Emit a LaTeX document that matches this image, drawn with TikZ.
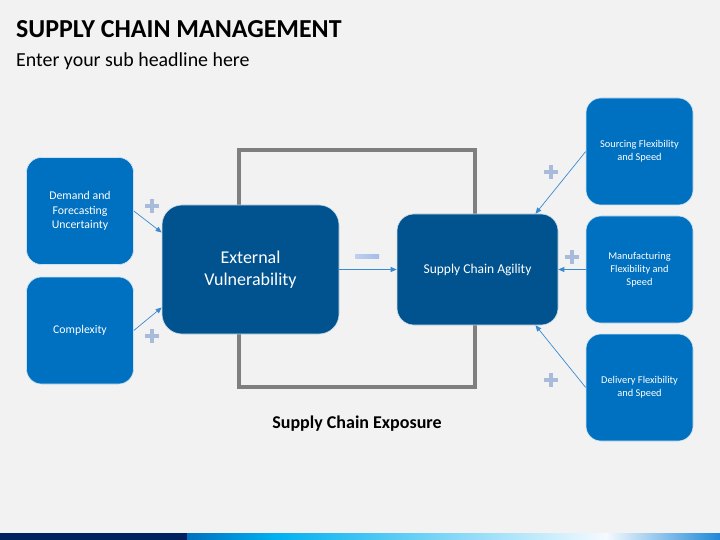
\documentclass[tikz,border=0pt]{standalone}
\usepackage{fontspec}
\setmainfont{Carlito}
\usetikzlibrary{arrows.meta}
\definecolor{bg}{HTML}{F2F2F2}
\definecolor{dblue}{HTML}{00538F}
\definecolor{lblue}{HTML}{0070C0}
\definecolor{sqgrey}{HTML}{7F7F7F}
\definecolor{plusc}{HTML}{A9BBDB}
\definecolor{minusc}{HTML}{A4BCE8}
\definecolor{arrc}{HTML}{3A8AD0}
\definecolor{navy}{HTML}{002060}
\begin{document}
\begin{tikzpicture}[x=1pt,y=-1pt,
  smallbox/.style={fill=lblue, draw=white!80!lblue, line width=0.6pt, rounded corners=15pt, text=white,
    font=\fontsize{11.8}{14.5}\selectfont, align=center, minimum width=107pt, minimum height=107pt, inner sep=0pt},
  rightbox/.style={smallbox, font=\fontsize{10.4}{12.8}\selectfont},
  bigbox/.style={fill=dblue, draw=white!80!dblue, line width=0.6pt, rounded corners=20pt, text=white, align=center, inner sep=0pt},
  conn/.style={draw=arrc, line width=0.7pt, -{Triangle[length=6pt,width=5pt]}},
  plusmark/.style={draw=plusc, line width=4pt},
]
\useasboundingbox (0,0) rectangle (720,540);
\fill[bg] (0,0) rectangle (720,540);

% title
\node[anchor=base west, inner sep=0pt, font=\bfseries\fontsize{25.9}{30}\selectfont] (title) at (16,38) {SUPPLY CHAIN MANAGEMENT};
\node[anchor=base west, inner sep=0pt, font=\fontsize{19.9}{24}\selectfont] (sub) at (16,67) {Enter your sub headline here};

% grey square
\draw[sqgrey, line width=4pt] (239,150) rectangle (475,387);

% boxes
\node[smallbox] (dem) at (80,211) {Demand and\\Forecasting\\Uncertainty};
\node[smallbox] (comp) at (80,330.5) {Complexity};
\node[bigbox, minimum width=177pt, minimum height=129pt, font=\fontsize{18}{21.5}\selectfont] (ext) at (250.5,269.5) {\raisebox{-2pt}{\parbox{150pt}{\centering External\\Vulnerability}}};
\node[bigbox, minimum width=161pt, minimum height=111pt, rounded corners=17pt, font=\fontsize{13.5}{16}\selectfont] (sca) at (477.5,269.5) {\raisebox{-1pt}{Supply Chain Agility}};
\node[rightbox] (src) at (639.5,151.5) {Sourcing Flexibility\\and Speed};
\node[rightbox] (man) at (639.5,269.5) {Manufacturing\\Flexibility and\\Speed};
\node[rightbox] (del) at (639.5,387.5) {Delivery Flexibility\\and Speed};

% connectors
\draw[conn] (dem.east) -- ([yshift=37pt]ext.west);
\draw[conn] (comp.east) -- ([yshift=-38pt]ext.west);
\draw[conn] (ext.east) -- (sca.west);
\draw[conn] (src.west) -- ([xshift=58pt]sca.north);
\draw[conn] (man.west) -- (sca.east);
\draw[conn] (del.west) -- ([xshift=58pt]sca.south);

% plus signs
\foreach \px/\py in {152/206, 152/336, 551/172, 572/257, 551/380}{
  \draw[plusmark] (\px-7,\py) -- (\px+7,\py);
  \draw[plusmark] (\px,\py-7) -- (\px,\py+7);
}
% minus sign
\shade[left color=minusc!70!white, right color=minusc] (355,254) rectangle (379,258.5);

% caption
\node[font=\bfseries\fontsize{18}{21}\selectfont] (cap) at (357,423.5) {Supply Chain Exposure};

% bottom bar
\fill[navy] (0,533) rectangle (187,540);
\shade[left color=lblue, right color={rgb,255:red,0;green,176;blue,240}] (187,533) rectangle (275,540);
\shade[left color={rgb,255:red,0;green,176;blue,240}, right color={rgb,255:red,245;green,250;blue,254}] (275,533) rectangle (606,540);
\shade[left color={rgb,255:red,245;green,250;blue,254}, right color={rgb,255:red,30;green,136;blue,216}] (606,533) rectangle (720,540);
\end{tikzpicture}
\end{document}
